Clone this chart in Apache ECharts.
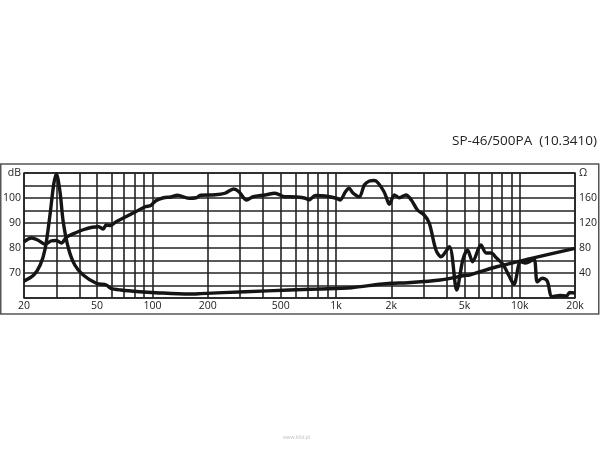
<!DOCTYPE html>
<html>
<head>
<meta charset="utf-8">
<script src="https://cdn.jsdelivr.net/npm/echarts@6/dist/echarts.min.js"></script>
<style>
html,body{margin:0;padding:0;background:#fff;}
#c{width:600px;height:450px;}
</style>
</head>
<body>
<div id="c"></div>
<script>
// ---- data ----
const title = 'SP-46/500PA  (10.3410)';
const splFreq = [20,22,24,26,28,30,32,34,38,42,47,51,54,56,59,63.5,71.7,81,91.5,98,104,115,126,137,158,173,183,220,248,277,296,326,353,411,465,527,559,612,681,712,771,873,1006,1053,1125,1176,1240,1340,1425,1520,1618,1700,1825,1872,1950,2077,2210,2403,2570,2775,3020,3220,3500,3730,4140,4540,4900,5200,5540,6150,6560,7000,7450,8100,8730,9300,10100,10770,11950,12460,13280,14120,15000,16600,18000,18700,20000];
const splDb   = [82.5,84,83,81.5,82.8,83,82,84.3,86,87.3,88.3,88.5,87.6,89.2,89,90.5,92.5,94.5,96.5,97,98.8,100.1,100.4,101.1,99.9,100.1,101.1,101.3,101.9,103.6,102.5,99.2,100.5,101.2,101.9,100.5,100.5,100.4,99.9,99.2,101,100.8,99.9,99.2,102.5,103.9,101.9,100.5,105.2,106.8,107,105.9,102.5,100.5,97.5,101.2,100.1,101.2,99.2,95.2,93.2,89.9,79.2,76.5,80.5,63.2,75.2,79.2,74.5,81.2,78,78,76.1,73.5,69,65.5,74.5,74,75.5,66.5,67.9,66.8,60.5,61,60.8,62.2,62];
const impFreq = [20,22.6,24.5,26.1,27.7,29,30,31.4,32.7,34.9,37.8,42,49.5,56.2,59.4,67.4,85,104,158,183,321,559,795,1213,1725,2000,2460,3690,5000,5320,7500,11420,20000];
const impOhm  = [27,36.8,52.8,79.5,133,181,199,170,122,79.5,52.8,36.8,23.5,20.8,15.5,12.8,10.1,8.5,6.4,7,10.1,12.8,14.4,16.5,21.9,23.5,24.5,28.8,36,36.8,50,63,79.5];
const xGridFreq = [20,30,40,50,60,70,80,90,100,200,300,400,500,600,700,800,900,1000,2000,3000,4000,5000,6000,7000,8000,9000,10000,20000];
const xTickFreq = [20,50,100,200,500,1000,2000,5000,10000,20000];
const xTickText = ['20','50','100','200','500','1k','2k','5k','10k','20k'];
const dbTicks = [70,80,90,100];
const ohmTicks = [40,80,120,160];
const dbUnit = 'dB';
const ohmUnit = 'Ω';

// ---- chart ----
const FONT = '"Open Sans", "Noto Sans", sans-serif';
const TXT = '#222';
const chart = echarts.init(document.getElementById('c'), null, {renderer:'canvas'});

const splData = splFreq.map((f,i)=>[f, splDb[i]]);
const impData = impFreq.map((f,i)=>[f, impOhm[i]]);

const gridMarks = xGridFreq.map(f=>{
  const k = xTickFreq.indexOf(f);
  return {
    xAxis: f,
    label: k >= 0 ? {show:true, position:'start', formatter: xTickText[k], distance: 3,
      color: TXT, fontSize: 10.5, fontFamily: FONT} : {show:false}
  };
});

chart.setOption({
  animation: false,
  backgroundColor: '#fff',
  title: {
    text: title, right: 3, top: 134, padding: 0,
    textStyle: {fontFamily: FONT, fontSize: 13.5, fontWeight: 'normal', color: TXT}
  },
  graphic: [
    {type:'rect', shape:{x:0.75, y:164, width:598, height:150}, style:{fill:'none', stroke:'#555', lineWidth:1.5}, silent:true},
    {type:'text', left: 283, top: 435, style:{text:'www.k6d.pl', fill:'#bbb', fontSize:5, fontFamily: FONT}, silent:true}
  ],
  grid: {left:22, right:23, top:173, bottom:152, show:true, borderColor:'#222', borderWidth:1.5, backgroundColor:'transparent'},
  xAxis: {
    type:'log', logBase:10, min:20, max:20000,
    axisLine:{show:false}, axisTick:{show:false}, axisLabel:{show:false}, splitLine:{show:false}
  },
  yAxis: [
    {
      type:'value', min:60, max:110, interval:5,
      axisLine:{show:false}, axisTick:{show:false},
      splitLine:{show:true, lineStyle:{color:'#222', width:1.6}},
      axisLabel:{
        color: TXT, fontSize: 10.5, fontFamily: FONT, margin: 3,
        formatter: v => v === 110 ? dbUnit : (dbTicks.indexOf(v) >= 0 ? String(v) : '')
      }
    },
    {
      type:'value', min:0, max:200, interval:20, position:'right',
      axisLine:{show:false}, axisTick:{show:false}, splitLine:{show:false},
      axisLabel:{
        color: TXT, fontSize: 10.5, fontFamily: FONT, margin: 4,
        formatter: v => v === 200 ? ohmUnit : (ohmTicks.indexOf(v) >= 0 ? String(v) : '')
      }
    }
  ],
  series: [
    {
      type:'line', yAxisIndex:0, data: [], silent:true,
      markLine: {
        silent:true, symbol:['none','none'], animation:false,
        lineStyle:{color:'#222', width:1.6, type:'solid'},
        data: gridMarks
      }
    },
    {
      type:'line', yAxisIndex:0, data: splData, smooth: 0.3, showSymbol:false, silent:true,
      lineStyle:{color:'#151515', width:3.4}, z:5
    },
    {
      type:'line', yAxisIndex:1, data: impData, smooth: 0.3, showSymbol:false, silent:true,
      lineStyle:{color:'#151515', width:3.4}, z:5
    }
  ]
});
</script>
</body>
</html>
